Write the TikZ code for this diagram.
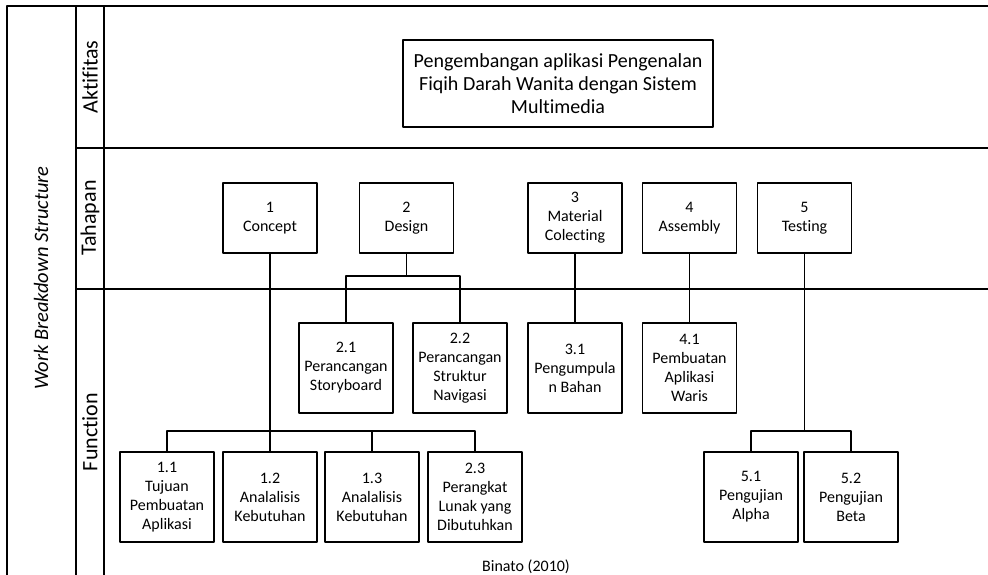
\documentclass[tikz,border=0pt]{standalone}
\usepackage{fontspec}
\setmainfont{Carlito}[Ligatures=NoCommon]
\usetikzlibrary{positioning}

\begin{document}
\begin{tikzpicture}[x=1pt, y=-1pt, line join=round, line cap=round,
  frame/.style={line width=1.9pt},
  lane/.style={rotate=90, font=\fontsize{22}{26}\selectfont},
  wbsbox/.style={draw, line width=1.1pt, minimum width=94pt, minimum height=70pt,
    align=center, inner sep=1pt, font=\fontsize{16}{19}\selectfont},
  subbox/.style={wbsbox, minimum height=90pt},
  link/.style={line width=1.3pt}]
\useasboundingbox (0,0) rectangle (988,575);
% lanes
\draw[frame] (7,575) -- (7,6) -- (988,6);
\draw[frame] (76,6) -- (76,575) (104,6) -- (104,575);
\draw[frame] (76,148) -- (988,148) (76,289) -- (988,289);
\node[rotate=90, font=\fontsize{20.5}{24}\itshape] (wbs) at (41,278) {Work Breakdown Structure};
\node[lane] (lakt) at (90,77) {Aktifitas};
\node[lane] (ltah) at (90,218) {Tahapan};
\node[lane] (lfun) at (90,432) {Function};
% aktifitas
\node[draw, line width=1.1pt, minimum width=310pt, minimum height=87pt, align=center,
  font=\fontsize{20}{23}\selectfont] (aktifitas) at (558,83.5)
  {Pengembangan aplikasi Pengenalan\\Fiqih Darah Wanita dengan Sistem\\Multimedia};
% tahapan
\node[wbsbox] (concept)  at (270,218)   {1\\Concept};
\node[wbsbox] (design)   at (406.5,218) {2\\Design};
\node[wbsbox] (material) at (575,218)   {3\\Material\\Colecting};
\node[wbsbox] (assembly) at (689.5,218) {4\\Assembly};
\node[wbsbox] (testing)  at (804.5,218) {5\\Testing};
% function
\node[subbox] (f21) at (346,368)   {2.1\\Perancangan\\Storyboard};
\node[subbox] (f22) at (460,368)   {2.2\\Perancangan\\Struktur\\Navigasi};
\node[subbox] (f31) at (575,368)   {3.1\\Pengumpula\\n Bahan};
\node[subbox] (f41) at (689.5,368) {4.1\\Pembuatan\\Aplikasi\\Waris};
\node[subbox] (f11) at (167,497)   {1.1\\Tujuan\\Pembuatan\\Aplikasi};
\node[subbox] (f12) at (270,497)   {1.2\\Analalisis\\Kebutuhan};
\node[subbox] (f13) at (372,497)   {1.3\\Analalisis\\Kebutuhan};
\node[subbox] (f23) at (475,497)   {2.3\\Perangkat\\Lunak yang\\Dibutuhkan};
\node[subbox] (f51) at (751,497)   {5.1\\Pengujian\\Alpha};
\node[subbox] (f52) at (851,497)   {5.2\\Pengujian\\Beta};
\node[font=\fontsize{16}{19}\selectfont] (source) at (526,567) {Binato (2010)};
% connectors
\coordinate (dbar) at (406.5,276);
\coordinate (cbar) at (270,431);
\coordinate (tbar) at (804.5,431);
\draw[link] (design.south) -- (dbar);
\draw[link] (f21.north) |- (dbar) -| (f22.north);
\draw[link] (concept.south) -- (f12.north);
\draw[link] (f11.north) |- (cbar) -| (f23.north);
\draw[link] (f13.north) -- (f13.north |- cbar);
\draw[link] (material.south) -- (f31.north);
\draw[link] (assembly.south) -- (f41.north);
\draw[link] (testing.south) -- (tbar);
\draw[link] (f51.north) |- (tbar) -| (f52.north);
\end{tikzpicture}
\end{document}
